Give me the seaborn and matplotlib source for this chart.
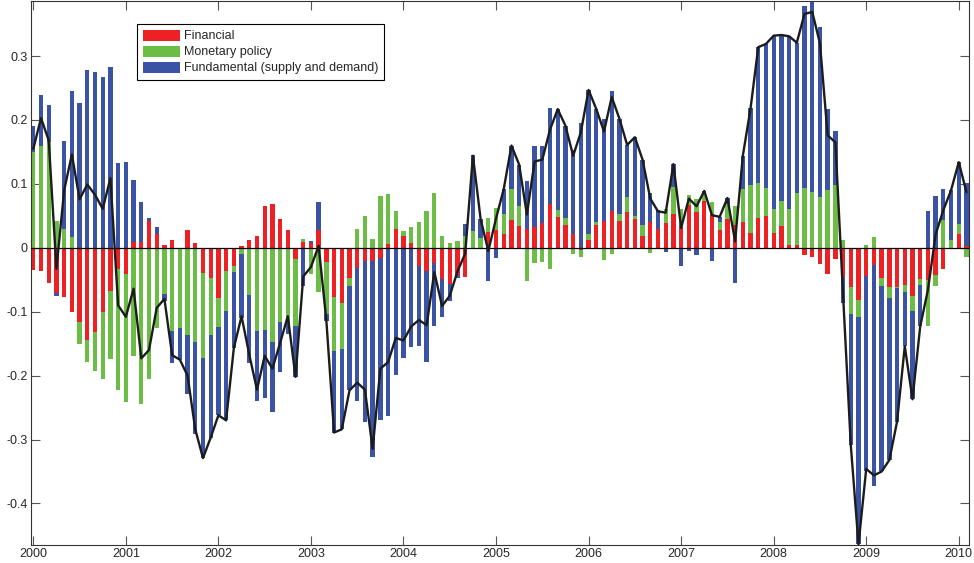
# coding: utf-8

"""
    Decomposition of monthly price changes into three drivers,
    stacked bars (positive and negative parts stacked apart) with the total as a line.
"""

import numpy as np
import pandas as pd
import matplotlib
matplotlib.use('Agg')
from matplotlib import pyplot as plt
from matplotlib.patches import Patch
import seaborn as sns

# monthly values, Jan 2000 .. Feb 2010
financial = [
    -0.035, -0.036, -0.055, -0.070, -0.077, -0.100, -0.116, -0.145, -0.131, -0.100, -0.067, -0.033,
    -0.041, 0.009, 0.009, 0.042, 0.022, 0.004, 0.012, 0.000, 0.028, 0.008, -0.040, -0.047,
    -0.078, -0.036, -0.029, 0.003, 0.013, 0.018, 0.066, 0.068, 0.045, 0.028, -0.018, 0.009,
    0.007, 0.028, -0.022, -0.077, -0.086, -0.048, -0.031, -0.021, -0.021, -0.016, 0.006, 0.030,
    0.018, 0.007, -0.029, -0.036, -0.024, -0.049, -0.057, -0.043, -0.046, -0.002, 0.000, 0.025,
    0.028, 0.022, 0.044, 0.034, 0.029, 0.032, 0.039, 0.068, 0.048, 0.035, 0.022, -0.004,
    0.013, 0.035, 0.042, 0.057, 0.042, 0.056, 0.045, 0.018, 0.040, 0.029, 0.039, 0.053,
    0.035, 0.067, 0.056, 0.073, 0.053, 0.028, 0.045, 0.035, 0.040, 0.023, 0.046, 0.049,
    0.023, 0.034, 0.004, 0.004, -0.012, -0.015, -0.025, -0.041, -0.017, -0.045, -0.062, -0.081,
    -0.044, -0.027, -0.047, -0.061, -0.062, -0.058, -0.075, -0.049, -0.050, -0.043, -0.033, 0.000,
    0.022, 0.003,
]
monetary = [
    0.150, 0.159, 0.166, 0.042, 0.029, 0.017, -0.034, -0.034, -0.061, -0.106, -0.107, -0.189,
    -0.201, -0.170, -0.244, -0.206, -0.126, -0.072, -0.130, -0.125, -0.136, -0.147, -0.132, -0.090,
    -0.046, -0.063, -0.009, -0.010, -0.074, -0.130, -0.129, -0.147, -0.116, -0.114, -0.105, 0.005,
    -0.041, -0.069, -0.082, -0.085, -0.072, -0.012, 0.029, 0.050, 0.0135, 0.081, 0.078, 0.028,
    0.009, 0.025, 0.040, 0.058, 0.085, 0.018, 0.008, 0.011, 0.018, 0.027, 0.016, 0.022,
    0.034, 0.031, 0.048, 0.032, -0.052, -0.024, -0.022, -0.033, 0.011, 0.011, -0.009, -0.010,
    0.009, 0.006, -0.019, -0.009, 0.011, 0.023, 0.005, 0.017, -0.008, -0.002, 0.022, 0.042,
    0.025, 0.015, 0.021, 0.012, 0.018, 0.0125, 0.024, 0.030, 0.052, 0.075, 0.055, 0.044,
    0.037, 0.039, 0.056, 0.081, 0.093, 0.088, 0.080, 0.090, 0.098, 0.012, -0.042, -0.028,
    0.004, 0.017, -0.013, -0.017, -0.001, -0.011, -0.024, -0.009, -0.073, -0.017, 0.044, 0.012,
    0.015, -0.014,
]
fundamental = [
    0.040, 0.080, 0.057, -0.005, 0.138, 0.229, 0.226, 0.278, 0.275, 0.267, 0.283, 0.132,
    0.134, 0.097, 0.062, 0.004, 0.010, -0.012, -0.050, -0.050, -0.092, -0.145, -0.157, -0.160,
    -0.138, -0.171, -0.119, -0.100, -0.106, -0.110, -0.106, -0.110, -0.078, -0.021, -0.079, -0.059,
    0.004, 0.044, -0.010, -0.127, -0.126, -0.163, -0.209, -0.251, -0.307, -0.254, -0.263, -0.199,
    -0.172, -0.155, -0.124, -0.143, -0.099, -0.060, -0.026, -0.005, 0.019, 0.119, 0.029, -0.052,
    -0.016, 0.039, 0.068, 0.064, 0.075, 0.127, 0.121, 0.150, 0.158, 0.145, 0.131, 0.195,
    0.225, 0.176, 0.159, 0.188, 0.149, 0.082, 0.123, 0.103, 0.045, 0.030, -0.006, 0.036,
    -0.029, -0.005, -0.012, 0.004, -0.020, 0.008, 0.009, -0.055, 0.052, 0.120, 0.213, 0.226,
    0.272, 0.260, 0.271, 0.236, 0.285, 0.296, 0.265, 0.127, 0.084, -0.041, -0.205, -0.355,
    -0.306, -0.346, -0.290, -0.254, -0.209, -0.085, -0.138, -0.065, 0.057, 0.081, 0.048, 0.078,
    0.097, 0.098,
]

series_names = ['Financial', 'Monetary policy', 'Fundamental (supply and demand)']
series_colors = ['#ED2024', '#6CBD45', '#3A53A4']

x_ticks = list(range(2000, 2011))
y_ticks = [-0.4, -0.3, -0.2, -0.1, 0.0, 0.1, 0.2, 0.3]
y_tick_labels = ['-0.4', '-0.3', '-0.2', '-0.1', '0', '0.1', '0.2', '0.3']


def stack_bottoms(parts):
    """
    positive parts stack up from 0, negative parts stack down from 0
    """
    pos = np.zeros(len(parts[0]))
    neg = np.zeros(len(parts[0]))
    bottoms = []
    for p in parts:
        p = np.asarray(p)
        bottoms.append(np.where(p >= 0, pos, neg))
        pos = pos + np.clip(p, 0, None)
        neg = neg + np.clip(p, None, 0)
    return bottoms


def main():
    sns.set_style('ticks')
    plt.rcParams['font.family'] = ['Liberation Sans', 'DejaVu Sans']
    plt.rcParams['axes.unicode_minus'] = False

    n = len(financial)
    years = 2000 + np.arange(n) / 12.0
    parts = [financial, monetary, fundamental]
    bottoms = stack_bottoms(parts)
    total = np.sum(np.array(parts), axis=0)

    fig = plt.figure(figsize=(9.74, 5.63), dpi=100)
    ax = fig.add_axes([0.0323, 0.032, 0.9626, 0.966])

    for vals, bot, col in zip(parts, bottoms, series_colors):
        df = pd.DataFrame({'year': years, 'value': vals})
        sns.barplot(data=df, x='year', y='value', native_scale=True, width=0.56,
                    color=col, saturation=1, errorbar=None, bottom=bot,
                    linewidth=0, ax=ax, zorder=2)

    ax.axhline(0, color='black', lw=0.9, zorder=3)
    line_df = pd.DataFrame({'year': years, 'total': total})
    sns.lineplot(data=line_df, x='year', y='total', color='#1c1c1c', linewidth=1.7,
                 ax=ax, zorder=4)

    ax.set_xlim(1999.98, 2010.111)
    ax.set_ylim(-0.465, 0.386)
    ax.set_xticks(x_ticks)
    ax.set_xticklabels([str(t) for t in x_ticks])
    ax.set_yticks(y_ticks)
    ax.set_yticklabels(y_tick_labels)
    ax.set_xlabel('')
    ax.set_ylabel('')
    ax.tick_params(direction='in', length=6.5, width=0.8, color='#555555',
                   labelsize=9, top=True, right=True, pad=2.5)
    for sp in ax.spines.values():
        sp.set_visible(True)
        sp.set_color('#333333')
        sp.set_linewidth(0.8)

    handles = [Patch(facecolor=c, edgecolor='none') for c in series_colors]
    leg = ax.legend(handles, series_names, loc='upper left', bbox_to_anchor=(0.1125, 0.958),
                    borderaxespad=0, fontsize=9, handlelength=3.0, handleheight=1.0,
                    handletextpad=0.35, labelspacing=0.25, borderpad=0.45,
                    fancybox=False, framealpha=1, edgecolor='black')
    leg.get_frame().set_linewidth(0.8)

    fig.savefig('out.png', dpi=100)


if __name__ == '__main__':
    main()
